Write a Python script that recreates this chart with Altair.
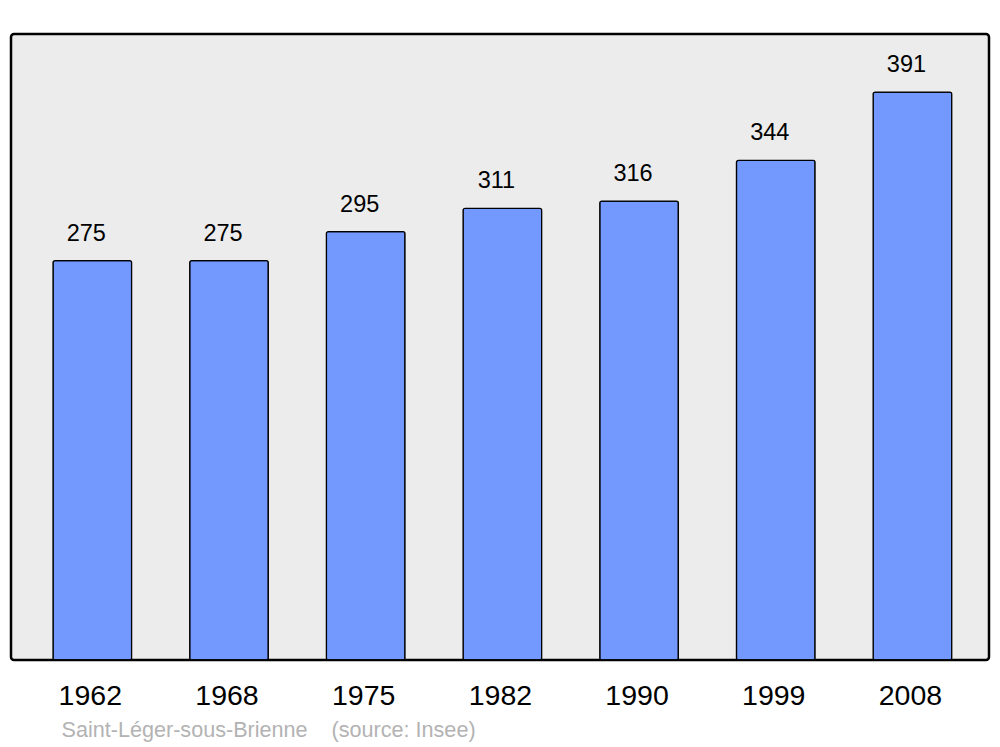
import altair as alt
import pandas as pd

years = ["1962", "1968", "1975", "1982", "1990", "1999", "2008"]
population = [275, 275, 295, 311, 316, 344, 391]

df = pd.DataFrame({"year": years, "pop": population})

base = alt.Chart(df).encode(
    x=alt.X("year:N", sort=None,
            scale=alt.Scale(paddingInner=0.425, paddingOuter=0.29, align=0.53),
            axis=alt.Axis(title=None, domain=False, ticks=False, tickSize=0,
                          labelAngle=0, labelFontSize=28.5, labelFont="Liberation Sans",
                          labelColor="black", labelBaseline="middle", labelPadding=35,
                          labelOffset=-2)),
    y=alt.Y("pop:Q", scale=alt.Scale(domain=[0, 431], nice=False), axis=None),
)

bars = base.mark_bar(fill="#7399ff", stroke="black", strokeWidth=1.3, cornerRadius=2)
labels = base.mark_text(dy=-27, dx=-6, fontSize=23.5, font="Liberation Sans",
                        baseline="middle", color="black").encode(text="pop:Q")

chart = (bars + labels).properties(
    width=978, height=626,
    padding={"left": 3, "top": 26, "right": 3, "bottom": 5},
    title=alt.TitleParams("Saint-Léger-sous-Brienne\u00a0\u00a0\u00a0\u00a0(source: Insee)",
                          orient="bottom", anchor="start", frame="group",
                          dx=50.5, offset=10, fontSize=21.6, font="Liberation Sans",
                          fontWeight="normal", color="#b3b3b3"),
).configure_view(fill="#ececec", stroke="black", strokeWidth=2.5, cornerRadius=3)

chart.save("out.html", embed_options={"renderer": "svg", "actions": False})
